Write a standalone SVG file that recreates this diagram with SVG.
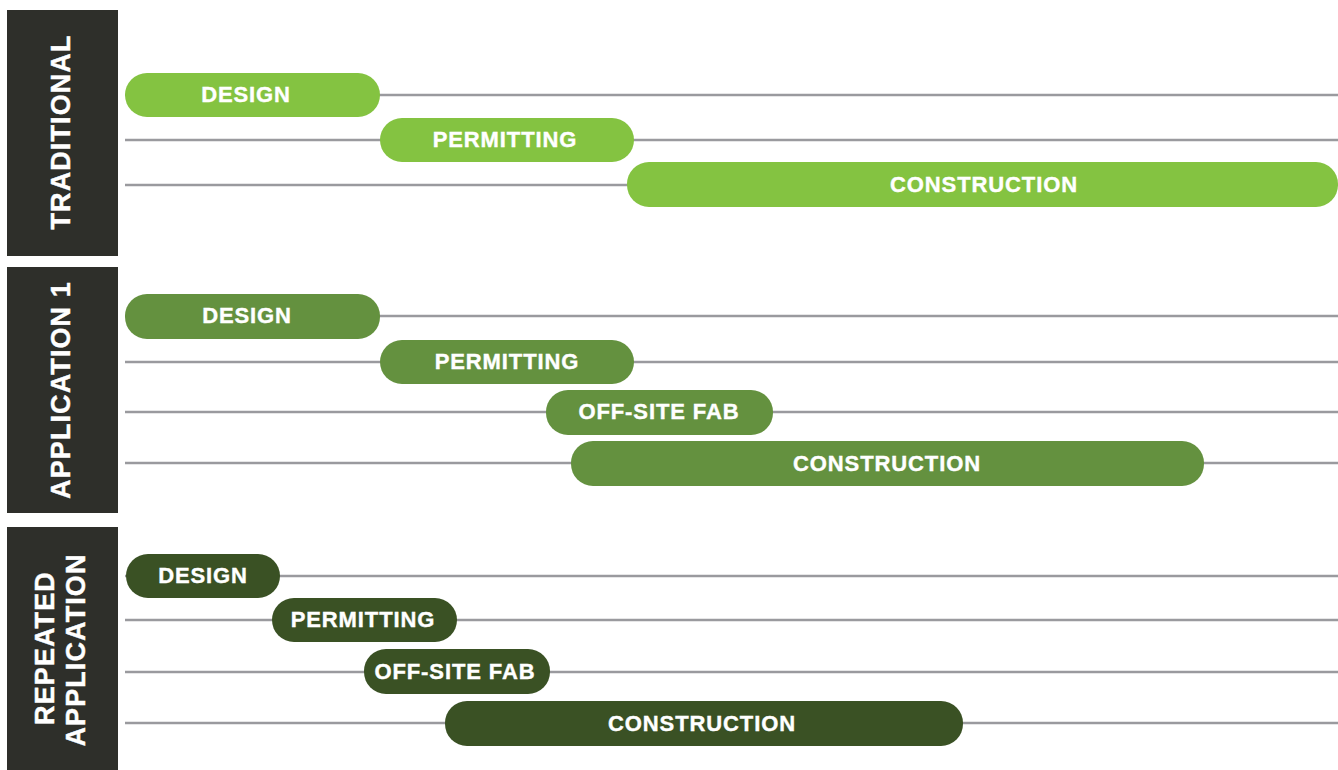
<svg xmlns="http://www.w3.org/2000/svg" width="1338" height="770" viewBox="0 0 1338 770">
<style>
.panel{fill:#2e2f2a}
.line{stroke:#9a9a9e;stroke-width:2.5;fill:none}
.g1{fill:#84c341}
.g2{fill:#64913f}
.g3{fill:#3a5124}
.bt{font-family:"Liberation Sans",Arial,sans-serif;font-weight:bold;font-size:22px;fill:#ffffff;text-anchor:middle;dominant-baseline:central;letter-spacing:0.9px;stroke:#ffffff;stroke-width:0.4}
.vt{font-family:"Liberation Sans",Arial,sans-serif;font-weight:bold;font-size:27px;fill:#ffffff;text-anchor:middle;dominant-baseline:central;letter-spacing:1.1px;stroke:#ffffff;stroke-width:0.4}
</style>
<rect width="1338" height="770" fill="#ffffff"/>
<g id="connectors">
<line class="line" x1="125" y1="95" x2="1338" y2="95"/>
<line class="line" x1="125" y1="140" x2="1338" y2="140"/>
<line class="line" x1="125" y1="185" x2="1338" y2="185"/>
<line class="line" x1="125" y1="316" x2="1338" y2="316"/>
<line class="line" x1="125" y1="362" x2="1338" y2="362"/>
<line class="line" x1="125" y1="412" x2="1338" y2="412"/>
<line class="line" x1="125" y1="463" x2="1338" y2="463"/>
<line class="line" x1="125" y1="576" x2="1338" y2="576"/>
<line class="line" x1="125" y1="620" x2="1338" y2="620"/>
<line class="line" x1="125" y1="672" x2="1338" y2="672"/>
<line class="line" x1="125" y1="723" x2="1338" y2="723"/>
</g>
<g id="panel-traditional">
<rect class="panel" x="7" y="10" width="111" height="246"/>
<text class="vt" transform="translate(61,132) rotate(-90)">TRADITIONAL</text>
</g>
<g id="panel-application1">
<rect class="panel" x="7" y="267" width="111" height="246"/>
<text class="vt" transform="translate(61,390) rotate(-90)">APPLICATION 1</text>
</g>
<g id="panel-repeated">
<rect class="panel" x="7" y="527" width="111" height="243"/>
<text class="vt" transform="translate(45,648) rotate(-90)">REPEATED</text>
<text class="vt" transform="translate(76,650) rotate(-90)">APPLICATION</text>
</g>
<g id="t-design"><rect class="g1" x="125" y="73" width="255" height="44" rx="22"/><text class="bt" x="246" y="94">DESIGN</text></g>
<g id="t-permitting"><rect class="g1" x="380" y="118" width="254" height="44" rx="22"/><text class="bt" x="505" y="139">PERMITTING</text></g>
<g id="t-construction"><rect class="g1" x="627" y="162" width="711" height="45" rx="22"/><text class="bt" x="984" y="184">CONSTRUCTION</text></g>
<g id="a-design"><rect class="g2" x="125" y="294" width="255" height="45" rx="22"/><text class="bt" x="247" y="315">DESIGN</text></g>
<g id="a-permitting"><rect class="g2" x="380" y="340" width="254" height="44" rx="22"/><text class="bt" x="507" y="361">PERMITTING</text></g>
<g id="a-offsite"><rect class="g2" x="546" y="390" width="227" height="45" rx="22"/><text class="bt" x="659" y="411">OFF-SITE FAB</text></g>
<g id="a-construction"><rect class="g2" x="571" y="441" width="633" height="45" rx="22"/><text class="bt" x="887" y="463">CONSTRUCTION</text></g>
<g id="r-design"><rect class="g3" x="126" y="554" width="154" height="44" rx="22"/><text class="bt" x="203" y="575">DESIGN</text></g>
<g id="r-permitting"><rect class="g3" x="272" y="598" width="185" height="44" rx="22"/><text class="bt" x="363" y="619">PERMITTING</text></g>
<g id="r-offsite"><rect class="g3" x="364" y="649" width="186" height="45" rx="22"/><text class="bt" x="455" y="671">OFF-SITE FAB</text></g>
<g id="r-construction"><rect class="g3" x="445" y="701" width="518" height="45" rx="22"/><text class="bt" x="702" y="723">CONSTRUCTION</text></g>
</svg>
